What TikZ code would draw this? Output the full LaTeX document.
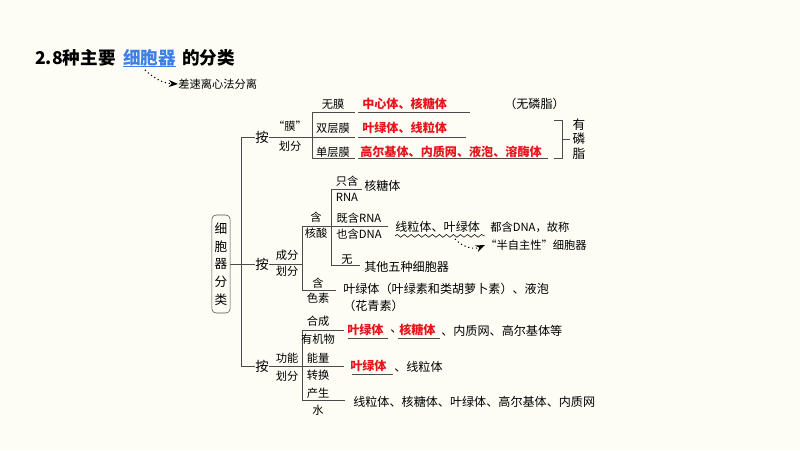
\documentclass[tikz,border=0pt]{standalone}
\usepackage{fontspec}
\setmainfont{Noto Sans CJK SC}
\usetikzlibrary{positioning, decorations.pathmorphing, arrows.meta}
\definecolor{bgc}{HTML}{FDFDF6}
\definecolor{redc}{HTML}{E8141C}
\definecolor{bluec}{HTML}{3F7FE8}
\tikzstyle{txt}=[inner sep=0pt, font=\fontsize{8.6}{9}\selectfont, anchor=west]
\tikzstyle{lab}=[inner sep=0pt, font=\fontsize{8}{9}\selectfont]
\tikzstyle{an}=[inner sep=0pt, font=\fontsize{9.5}{10}\selectfont]
\tikzstyle{redt}=[txt, text=redc, font=\fontsize{8.6}{9}\selectfont\bfseries]
\tikzstyle{hand}=[txt, font=\fontsize{8}{9}\selectfont\itshape]
\tikzstyle{br}=[draw=black!70, line width=0.7pt]
\tikzset{>=Stealth}

\begin{document}
\begin{tikzpicture}[x=0.025cm, y=-0.025cm]
\fill[bgc] (0,0) rectangle (800,450);
\useasboundingbox (0,0) rectangle (800,450);
% title
\node[txt, font=\fontsize{12.5}{14}\selectfont\bfseries] (T1) at (35,58) {2.8种主要};
\node[txt, text=bluec, font=\fontsize{12.5}{14}\selectfont\bfseries] (T2) at (123,58) {细胞器};
\draw[bluec, line width=0.6pt] (T2.south west) -- (T2.south east);
\node[txt, font=\fontsize{12.5}{14}\selectfont\bfseries] (T3) at (182,58) {的分类};
\node[hand] (T4) at (178,84) {差速离心法分离};
\draw[dotted, thick, ->] (145,70) to[bend right=20] (T4.west);
% root
\node[draw=black!70, rounded corners=3pt, inner sep=2pt, align=center, font=\fontsize{9}{12.5}\selectfont, minimum height=2.45cm] (R) at (221,264) {细\\胞\\器\\分\\类};
\coordinate (M) at (241,264);
\draw[br] (R.east) -- (M);
\draw[br] (241,137) -- (241,366);
% first branch: by membrane
\node[an] (A1) at (262,137) {按};
\draw[br] (241,137) -- (A1.west);
\node[lab] (a1) at (290,126) {“膜”};
\node[lab] (a2) at (290,146) {划分};
\draw[br] (A1.east) -- (312,137);
\draw[br] (312,112) -- (312,158);
\node[lab] (m1) at (333,104) {无膜};
\node[lab] (m2) at (333,128) {双层膜};
\node[lab] (m3) at (333,152) {单层膜};
\draw[br] (312,112) -- (355,112);
\draw[br] (312,137) -- (355,137);
\draw[br] (312,158) -- (355,158);
\node[redt] (r1) at (362,104) {中心体、核糖体};
\node[redt] (r2) at (362,128) {叶绿体、线粒体};
\node[redt] (r3) at (360,152) {高尔基体、内质网、液泡、溶酶体};
\draw[br] (358,112) -- (470,112);
\draw[br] (358,137) -- (466,137);
\draw[br] (358,158) -- (548,158);
\node[txt] (n1) at (504,104) {（无磷脂）};
\draw[br] (554,120) -- (562,120) -- (562,158) -- (554,158);
\draw[br] (562,139) -- (570,139);
\node[lab, align=center, font=\fontsize{9}{10.5}\selectfont] (p1) at (579,139) {有\\磷\\脂};
% second branch: by composition
\node[an] (A2) at (262,264) {按};
\draw[br] (M) -- (A2.west);
\node[lab] (b1) at (287,255) {成分};
\node[lab] (b2) at (287,271) {划分};
\draw[br] (A2.east) -- (302,264);
\draw[br] (302,226) -- (302,290);
\node[lab] (c1) at (316,217) {含};
\node[lab] (c2) at (316,233) {核酸};
\draw[br] (302,226) -- (331,226);
\draw[br] (331,189) -- (331,265);
\node[lab] (d1) at (347,181) {只含};
\node[lab] (d2) at (347,197) {RNA};
\draw[br] (331,189) -- (362,189);
\node[txt] (e1) at (364,186) {核糖体};
\node[lab] (d3) at (359,218) {既含RNA};
\node[lab] (d4) at (359,234) {也含DNA};
\draw[br] (331,226) -- (388,226);
\node[txt] (e2) at (395,227) {线粒体、叶绿体};
\draw[decorate, decoration={snake, amplitude=1pt, segment length=5pt}] (e2.south west) ++(0,3) -- ++(90,0);
\node[hand] (h1) at (490,227) {都含DNA，故称};
\node[hand] (h2) at (485,245) {“半自主性”细胞器};
\draw[dotted, thick, ->] (455,239) to[bend right=35] (h2.west);
\node[lab] (d5) at (347,260) {无};
\draw[br] (331,265) -- (360,265);
\node[txt] (e3) at (364,267) {其他五种细胞器};
\node[lab] (c3) at (318,283) {含};
\node[lab] (c4) at (318,298) {色素};
\draw[br] (302,290) -- (336,290);
\node[txt] (e4) at (343,289) {叶绿体（叶绿素和类胡萝卜素）、液泡};
\node[txt] (e5) at (343,306) {（花青素）};
% third branch: by function
\node[an] (A3) at (262,366) {按};
\draw[br] (241,366) -- (A3.west);
\node[lab] (f1) at (287,358) {功能};
\node[lab] (f2) at (287,376) {划分};
\draw[br] (A3.east) -- (344,366);
\draw[br] (302,330) -- (302,400);
\node[lab] (g1) at (318,321) {合成};
\node[lab] (g2) at (318,339) {有机物};
\draw[br] (302,330) -- (344,330);
\node[redt] (k1) at (347,330) {叶绿体};
\draw[br] (348,338) -- (388,338);
\node[txt] (k2) at (390,331) {、};
\node[redt] (k3) at (399,330) {核糖体};
\draw[br] (398,338) -- (440,338);
\node[txt] (k4) at (441,331) {、内质网、高尔基体等};
\node[lab] (g3) at (318,358) {能量};
\node[lab] (g4) at (318,375) {转换};
\node[redt] (k5) at (350,366) {叶绿体};
\draw[br] (352,374) -- (393,374);
\node[txt] (k6) at (394,367) {、线粒体};
\node[lab] (g5) at (318,393) {产生};
\node[lab] (g6) at (318,410) {水};
\draw[br] (302,400) -- (345,400);
\node[txt] (k7) at (353,402) {线粒体、核糖体、叶绿体、高尔基体、内质网};
\end{tikzpicture}
\end{document}
